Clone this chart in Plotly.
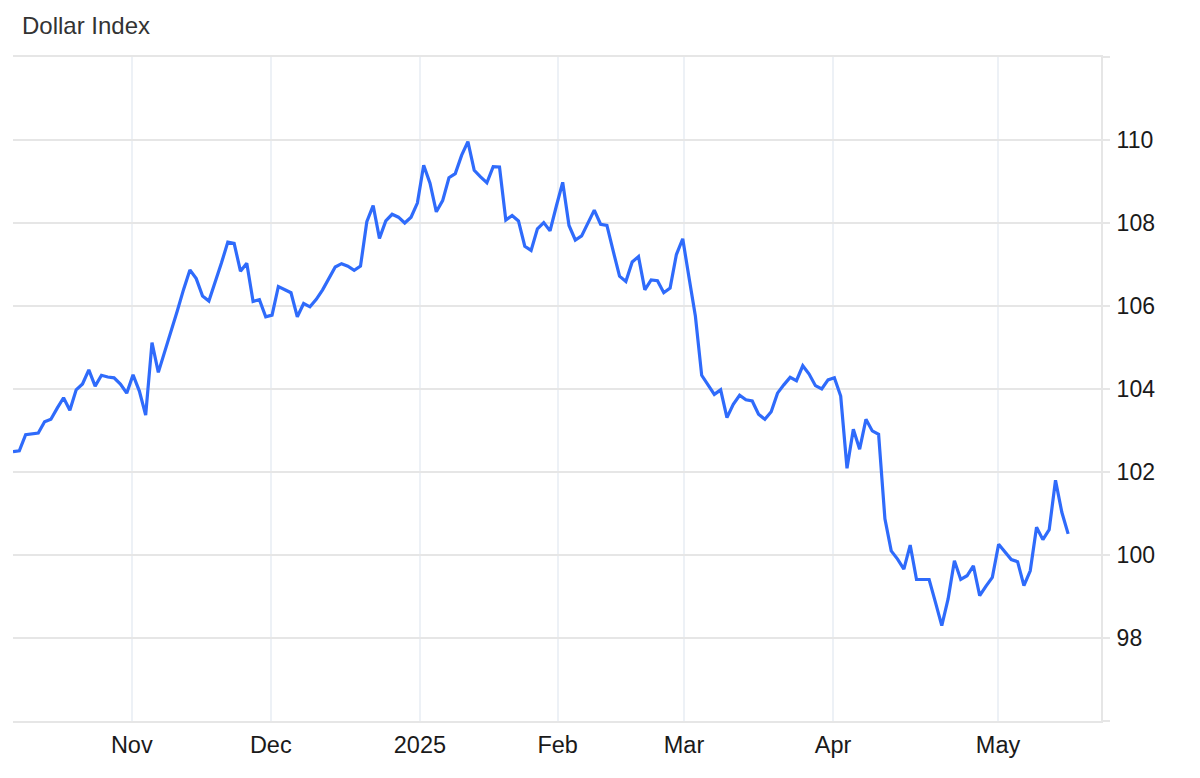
import plotly.graph_objects as go

# Dollar Index, one value per trading session
values = [
    102.49, 102.51, 102.90, 102.92, 102.94, 103.21, 103.27, 103.54, 103.79, 103.49,
    103.98, 104.12, 104.46, 104.07, 104.33, 104.29, 104.27, 104.12, 103.90, 104.34,
    103.95, 103.37, 105.12, 104.40, 104.88, 105.37, 105.88, 106.40, 106.87, 106.66,
    106.24, 106.12, 106.56, 107.04, 107.54, 107.51, 106.84, 107.03, 106.11, 106.15,
    105.74, 105.78, 106.47, 106.39, 106.32, 105.74, 106.06, 105.98, 106.16, 106.39,
    106.68, 106.94, 107.02, 106.96, 106.86, 106.96, 108.03, 108.42, 107.63, 108.05,
    108.21, 108.14, 108.00, 108.14, 108.48, 109.39, 108.96, 108.27, 108.54, 109.09,
    109.19, 109.63, 109.96, 109.27, 109.11, 108.97, 109.36, 109.35, 108.07, 108.18,
    108.05, 107.44, 107.34, 107.86, 108.01, 107.81, 108.41, 108.98, 107.94, 107.59,
    107.69, 108.01, 108.31, 107.97, 107.94, 107.32, 106.72, 106.59, 107.06, 107.19,
    106.39, 106.63, 106.61, 106.32, 106.43, 107.24, 107.62, 106.68, 105.76, 104.33,
    104.10, 103.87, 103.98, 103.31, 103.63, 103.85, 103.74, 103.71, 103.39, 103.27,
    103.45, 103.90, 104.10, 104.28, 104.20, 104.56, 104.36, 104.08, 104.00, 104.22,
    104.27, 103.83, 102.09, 103.03, 102.55, 103.27, 102.99, 102.91, 100.87, 100.10,
    99.90, 99.66, 100.24, 99.41, 99.41, 99.41, 98.86, 98.30, 98.94, 99.86,
    99.41, 99.50, 99.74, 99.02, 99.25, 99.46, 100.26, 100.06, 99.89, 99.84,
    99.26, 99.62, 100.67, 100.37, 100.61, 101.80, 101.03, 100.51,
]
sessions = list(range(len(values)))

# month boundaries, in session units
month_tick_pos = [18.8, 40.8, 64.4, 86.2, 106.2, 129.8, 155.9]
month_tick_text = ["Nov", "Dec", "2025", "Feb", "Mar", "Apr", "May"]

y_tick_vals = [96, 98, 100, 102, 104, 106, 108, 110, 112]
y_tick_text = ["", "98", "100", "102", "104", "106", "108", "110", ""]

FONT = "Liberation Sans, Arial, Helvetica, sans-serif"
W, H = 1184, 762  # page body has an 8px margin

fig = go.Figure()
fig.add_trace(go.Scatter(
    x=sessions, y=values, mode="lines",
    line=dict(color="#2f6bfb", width=3.2),
    hoverinfo="y", showlegend=False,
))

fig.update_layout(
    width=W, height=H,
    margin=dict(l=5, r=91, t=49, b=49),
    paper_bgcolor="white", plot_bgcolor="white",
    font=dict(family=FONT, size=23, color="#1a1a1a"),
    title=dict(
        text="Dollar Index", xref="container", yref="container",
        x=14 / W, xanchor="left", y=1 - 18 / H, yanchor="middle",
        font=dict(family=FONT, size=24, color="#333333"),
        pad=dict(l=0, r=0, t=0, b=0),
    ),
    xaxis=dict(
        range=[0, 172.2],
        tickmode="array", tickvals=month_tick_pos, ticktext=month_tick_text,
        showgrid=True, gridcolor="#edf1f6", gridwidth=1.5,
        showline=True, linecolor="#e6e6e6", linewidth=2, mirror=True,
        ticks="", zeroline=False, ticklabelstandoff=2,
        tickfont=dict(family=FONT, size=23.5, color="#1a1a1a"),
    ),
    yaxis=dict(
        range=[96, 112], side="right",
        tickmode="array", tickvals=y_tick_vals, ticktext=y_tick_text,
        showgrid=True, gridcolor="#e6e6e6", gridwidth=1.5,
        showline=True, linecolor="#e6e6e6", linewidth=2,
        ticks="outside", ticklen=7, tickcolor="#e6e6e6", tickwidth=2,
        ticklabelstandoff=2,
        zeroline=False,
        tickfont=dict(family=FONT, size=23, color="#1a1a1a"),
    ),
)

fig.write_html("out.html")
